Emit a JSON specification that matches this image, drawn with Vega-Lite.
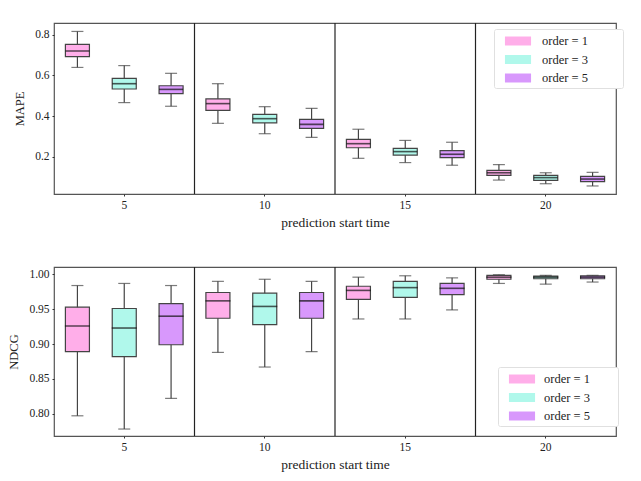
{
  "$schema": "https://vega.github.io/schema/vega-lite/v6.json",
  "padding": {"left": 7, "top": 21, "right": 27, "bottom": 5},
  "background": "white",
  "spacing": 35,
  "datasets": {
    "mape": [
      {"time": 5, "order": "1", "lo": 0.639, "q1": 0.692, "med": 0.720, "q3": 0.752, "hi": 0.816},
      {"time": 5, "order": "3", "lo": 0.466, "q1": 0.533, "med": 0.559, "q3": 0.585, "hi": 0.648},
      {"time": 5, "order": "5", "lo": 0.448, "q1": 0.510, "med": 0.531, "q3": 0.549, "hi": 0.610},
      {"time": 10, "order": "1", "lo": 0.364, "q1": 0.428, "med": 0.461, "q3": 0.484, "hi": 0.559},
      {"time": 10, "order": "3", "lo": 0.313, "q1": 0.366, "med": 0.387, "q3": 0.408, "hi": 0.446},
      {"time": 10, "order": "5", "lo": 0.295, "q1": 0.339, "med": 0.359, "q3": 0.384, "hi": 0.438},
      {"time": 15, "order": "1", "lo": 0.192, "q1": 0.244, "med": 0.264, "q3": 0.285, "hi": 0.335},
      {"time": 15, "order": "3", "lo": 0.171, "q1": 0.208, "med": 0.225, "q3": 0.241, "hi": 0.280},
      {"time": 15, "order": "5", "lo": 0.158, "q1": 0.195, "med": 0.212, "q3": 0.230, "hi": 0.271},
      {"time": 20, "order": "1", "lo": 0.085, "q1": 0.108, "med": 0.121, "q3": 0.133, "hi": 0.161},
      {"time": 20, "order": "3", "lo": 0.067, "q1": 0.084, "med": 0.097, "q3": 0.108, "hi": 0.121},
      {"time": 20, "order": "5", "lo": 0.056, "q1": 0.077, "med": 0.090, "q3": 0.103, "hi": 0.123}
    ],
    "ndcg": [
      {"time": 5, "order": "1", "lo": 0.797, "q1": 0.889, "med": 0.926, "q3": 0.953, "hi": 0.984},
      {"time": 5, "order": "3", "lo": 0.778, "q1": 0.882, "med": 0.923, "q3": 0.951, "hi": 0.987},
      {"time": 5, "order": "5", "lo": 0.822, "q1": 0.899, "med": 0.940, "q3": 0.958, "hi": 0.984},
      {"time": 10, "order": "1", "lo": 0.888, "q1": 0.937, "med": 0.962, "q3": 0.974, "hi": 0.990},
      {"time": 10, "order": "3", "lo": 0.867, "q1": 0.928, "med": 0.954, "q3": 0.973, "hi": 0.993},
      {"time": 10, "order": "5", "lo": 0.889, "q1": 0.937, "med": 0.962, "q3": 0.974, "hi": 0.990},
      {"time": 15, "order": "1", "lo": 0.936, "q1": 0.964, "med": 0.977, "q3": 0.983, "hi": 0.996},
      {"time": 15, "order": "3", "lo": 0.936, "q1": 0.967, "med": 0.981, "q3": 0.990, "hi": 0.998},
      {"time": 15, "order": "5", "lo": 0.949, "q1": 0.971, "med": 0.980, "q3": 0.987, "hi": 0.995},
      {"time": 20, "order": "1", "lo": 0.987, "q1": 0.993, "med": 0.996, "q3": 0.9986, "hi": 0.9995},
      {"time": 20, "order": "3", "lo": 0.986, "q1": 0.9937, "med": 0.996, "q3": 0.9976, "hi": 0.9986},
      {"time": 20, "order": "5", "lo": 0.989, "q1": 0.9937, "med": 0.996, "q3": 0.998, "hi": 0.9986}
    ],
    "seps": [{"time": 10}, {"time": 15}, {"time": 20}]
  },
  "vconcat": [
    {
      "width": 562,
      "height": 171,
      "data": {"name": "mape"},
      "encoding": {
        "x": {"field": "time", "type": "ordinal", "scale": {"paddingInner": 0, "paddingOuter": 0},
              "axis": {"title": "prediction start time", "labelAngle": 0}},
        "xOffset": {"field": "order", "type": "nominal", "scale": {"paddingInner": 0.487, "paddingOuter": 0.2435}}
      },
      "layer": [
        {
          "data": {"name": "seps"},
          "mark": {"type": "rule", "color": "#222", "strokeWidth": 1.2},
          "encoding": {"x": {"field": "time", "type": "ordinal", "bandPosition": 0}, "xOffset": null}
        },
        {
          "mark": {"type": "rule", "color": "#444", "strokeWidth": 1.2},
          "encoding": {
            "y": {"field": "lo", "type": "quantitative", "scale": {"domain": [0.0165, 0.8575], "nice": false, "zero": false},
                  "axis": {"title": "MAPE", "values": [0.2, 0.4, 0.6, 0.8], "format": ".1f"}},
            "y2": {"field": "hi"}
          }
        },
        {
          "mark": {"type": "bar", "stroke": "#444", "strokeWidth": 1.2},
          "encoding": {
            "y": {"field": "q1", "type": "quantitative"},
            "y2": {"field": "q3"},
            "color": {"field": "order", "type": "nominal",
                      "scale": {"domain": ["1", "3", "5"], "range": ["#ffaee9", "#b0f8eb", "#d898fc"]},
                      "legend": {"title": null, "orient": "none", "legendX": 440, "legendY": 6,
                                 "labelExpr": "'order = ' + datum.label + '\u00a0\u00a0\u00a0\u00a0\u00a0\u00a0\u00a0\u00a0\u00a0\u00a0\u200b'",
                                 "symbolType": "M-1.45,-0.5H1.45V0.5H-1.45Z", "symbolSize": 324,
                                 "symbolStrokeWidth": 0, "symbolOpacity": 1, "symbolOffset": 12,
                                 "labelOffset": 15, "rowPadding": 2.5, "padding": 3,
                                 "strokeColor": "#e0e0e0", "fillColor": "white", "cornerRadius": 2}}
          }
        },
        {
          "mark": {"type": "tick", "color": "#111", "size": 24, "thickness": 1.6},
          "encoding": {"y": {"field": "med", "type": "quantitative"}}
        },
        {
          "mark": {"type": "tick", "color": "#444", "size": 12, "thickness": 1.2},
          "encoding": {"y": {"field": "lo", "type": "quantitative"}}
        },
        {
          "mark": {"type": "tick", "color": "#444", "size": 12, "thickness": 1.2},
          "encoding": {"y": {"field": "hi", "type": "quantitative"}}
        }
      ]
    },
    {
      "width": 562,
      "height": 169,
      "data": {"name": "ndcg"},
      "encoding": {
        "x": {"field": "time", "type": "ordinal", "scale": {"paddingInner": 0, "paddingOuter": 0},
              "axis": {"title": "prediction start time", "labelAngle": 0}},
        "xOffset": {"field": "order", "type": "nominal", "scale": {"paddingInner": 0.46, "paddingOuter": 0.23}}
      },
      "layer": [
        {
          "data": {"name": "seps"},
          "mark": {"type": "rule", "color": "#222", "strokeWidth": 1.2},
          "encoding": {"x": {"field": "time", "type": "ordinal", "bandPosition": 0}, "xOffset": null}
        },
        {
          "mark": {"type": "rule", "color": "#444", "strokeWidth": 1.2},
          "encoding": {
            "y": {"field": "lo", "type": "quantitative", "scale": {"domain": [0.768, 1.0106], "nice": false, "zero": false},
                  "axis": {"title": "NDCG", "values": [0.8, 0.85, 0.9, 0.95, 1.0], "format": ".2f"}},
            "y2": {"field": "hi"}
          }
        },
        {
          "mark": {"type": "bar", "stroke": "#444", "strokeWidth": 1.2},
          "encoding": {
            "y": {"field": "q1", "type": "quantitative"},
            "y2": {"field": "q3"},
            "color": {"field": "order", "type": "nominal",
                      "scale": {"domain": ["1", "3", "5"], "range": ["#ffaee9", "#b0f8eb", "#d898fc"]},
                      "legend": {"title": null, "orient": "none", "legendX": 444, "legendY": 100,
                                 "labelExpr": "'order = ' + datum.label + '\u00a0\u00a0\u00a0\u00a0\u00a0\u00a0\u00a0\u00a0\u200b'",
                                 "symbolType": "M-1.45,-0.5H1.45V0.5H-1.45Z", "symbolSize": 324,
                                 "symbolStrokeWidth": 0, "symbolOpacity": 1, "symbolOffset": 12,
                                 "labelOffset": 13, "rowPadding": 2.5, "padding": 3,
                                 "strokeColor": "#e0e0e0", "fillColor": "white", "cornerRadius": 2}}
          }
        },
        {
          "mark": {"type": "tick", "color": "#111", "size": 25, "thickness": 1.6},
          "encoding": {"y": {"field": "med", "type": "quantitative"}}
        },
        {
          "mark": {"type": "tick", "color": "#444", "size": 12, "thickness": 1.2},
          "encoding": {"y": {"field": "lo", "type": "quantitative"}}
        },
        {
          "mark": {"type": "tick", "color": "#444", "size": 12, "thickness": 1.2},
          "encoding": {"y": {"field": "hi", "type": "quantitative"}}
        }
      ]
    }
  ],
  "resolve": {"scale": {"color": "independent"}},
  "config": {
    "font": "'Liberation Serif', 'DejaVu Serif', serif",
    "view": {"stroke": "#555", "strokeWidth": 1.2},
    "bar": {"opacity": 1},
    "axis": {
      "domain": false, "grid": false,
      "labelFont": "'Liberation Serif', 'DejaVu Serif', serif", "labelFontSize": 11.5, "labelColor": "#222",
      "titleFont": "'Liberation Serif', 'DejaVu Serif', serif", "titleFontSize": 12.5, "titleFontWeight": "normal", "titleColor": "#222",
      "tickColor": "#333", "tickSize": 2, "labelPadding": 3
    },
    "axisX": {"titlePadding": 5, "titleFontSize": 13.5},
    "axisY": {"titlePadding": 8},
    "legend": {"labelFont": "'Liberation Serif', 'DejaVu Serif', serif", "labelFontSize": 12.5, "labelColor": "#222"}
  }
}
